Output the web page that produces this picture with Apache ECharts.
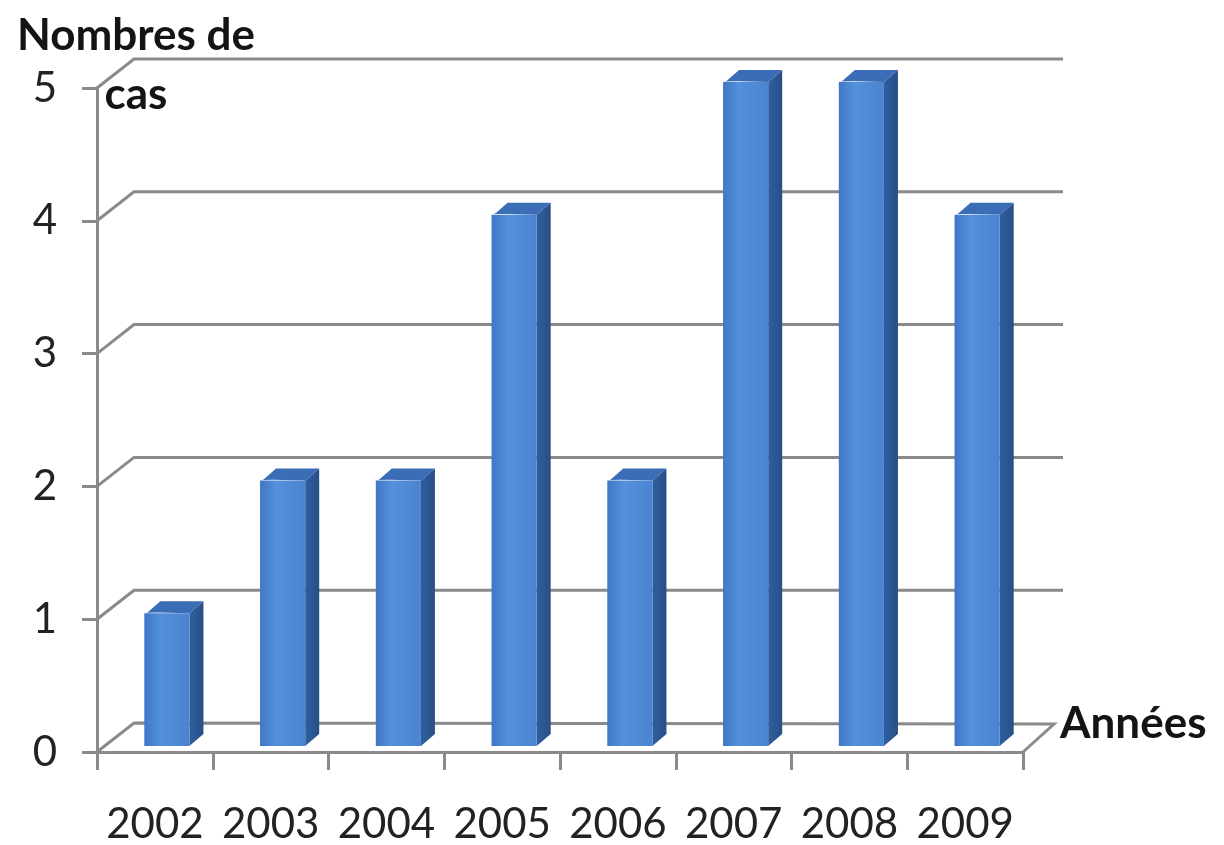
<!DOCTYPE html>
<html>
<head>
<meta charset="utf-8">
<title>Nombres de cas par année</title>
<script src="https://cdn.jsdelivr.net/npm/echarts@6/dist/echarts.min.js"></script>
<style>
  html, body { margin: 0; padding: 0; background: #ffffff; }
  #chart { width: 1224px; height: 845px; }
</style>
</head>
<body>
<div id="chart"></div>
<script>
// Data
const years = ['2002', '2003', '2004', '2005', '2006', '2007', '2008', '2009'];
const cases = [1, 2, 2, 4, 2, 5, 5, 4];
const gridLevels = [0, 1, 2, 3, 4, 5];

// Pseudo-3D geometry (pixel offsets for depth)
const DEPTH_LEFT = [37, -29];   // front axis -> back wall, left side
const DEPTH_RIGHT = [31, -28];  // floor corner, right side
const WALL_EXTRA = 40;          // how far back-wall lines run past the front plot edge
const BAR_FRONT = [12, -6];     // bar front face sits slightly inside the floor
const BAR_SIDE = [14, -12];     // visible bar depth
const BAR_RATIO = 0.39;

const GRID_COLOR = '#8a8a8a';
const FONT = 'Lato, "Open Sans", sans-serif';

// Back wall gridlines with their diagonal links to the front value axis
function renderWall(params, api) {
  const cs = params.coordSys;
  const v = api.value(1);
  const y = api.coord([0, v])[1];
  const x0 = cs.x;
  const x1 = cs.x + cs.width;
  const pts = [[x0, y], [x0 + DEPTH_LEFT[0], y + DEPTH_LEFT[1]]];
  if (v === 0) {
    pts.push([x1 + DEPTH_RIGHT[0], y + DEPTH_RIGHT[1]]);
    pts.push([x1, y]);
  } else {
    pts.push([x1 + WALL_EXTRA, y + DEPTH_LEFT[1]]);
  }
  return {
    type: 'polyline',
    shape: { points: pts },
    style: { stroke: GRID_COLOR, lineWidth: 3, fill: null }
  };
}

// Box-shaped bar: front face, right side and top
function renderBar(params, api) {
  const idx = api.value(0);
  const val = api.value(1);
  const top = api.coord([idx, val]);
  const base = api.coord([idx, 0]);
  const band = api.size([1, 0])[0];
  const w = band * BAR_RATIO;
  const xl = top[0] - w / 2 + BAR_FRONT[0];
  const xr = xl + w;
  const yt = top[1] + BAR_FRONT[1];
  const yb = base[1] + BAR_FRONT[1];
  const dx = BAR_SIDE[0], dy = BAR_SIDE[1];
  return {
    type: 'group',
    children: [
      {
        type: 'polygon',
        shape: { points: [[xr, yt], [xr + dx, yt + dy], [xr + dx, yb + dy], [xr, yb]] },
        style: {
          fill: new echarts.graphic.LinearGradient(0, 0, 1, 0, [
            { offset: 0, color: '#2f5f9f' },
            { offset: 1, color: '#284f86' }
          ])
        }
      },
      {
        type: 'polygon',
        shape: { points: [[xl, yt + 2], [xl + 3, yt - 1], [xr, yt], [xr + dx, yt + dy], [xl + dx + 2, yt + dy]] },
        style: { fill: '#3b6db6' }
      },
      {
        type: 'rect',
        shape: { x: xl, y: yt, width: w, height: yb - yt },
        style: {
          fill: new echarts.graphic.LinearGradient(0, 0, 1, 0, [
            { offset: 0, color: '#3f77c4' },
            { offset: 0.35, color: '#5590dc' },
            { offset: 1, color: '#4a84d1' }
          ])
        }
      }
    ]
  };
}

const chart = echarts.init(document.getElementById('chart'), null, { renderer: 'canvas' });

chart.setOption({
  animation: false,
  backgroundColor: '#ffffff',
  grid: { left: 97, right: 201, top: 88, bottom: 93, containLabel: false, outerBoundsMode: 'none' },
  xAxis: {
    type: 'category',
    data: years,
    boundaryGap: true,
    name: 'Années',
    nameLocation: 'end',
    nameGap: 37,
    nameMoveOverlap: false,
    nameTextStyle: {
      fontFamily: FONT, fontSize: 44, fontWeight: 'bold', color: '#141414',
      lineHeight: 44, align: 'left', verticalAlign: 'bottom', padding: [0, 0, 6, 0]
    },
    axisLine: { show: true, lineStyle: { color: GRID_COLOR, width: 3 } },
    axisTick: { show: true, interval: 0, length: 18, lineStyle: { color: GRID_COLOR, width: 3 } },
    axisLabel: { interval: 0, fontFamily: FONT, fontSize: 42, color: '#222222', margin: 51, hideOverlap: false },
    splitLine: { show: false }
  },
  yAxis: {
    type: 'value',
    min: 0,
    max: 5,
    interval: 1,
    name: 'Nombres de\ncas',
    nameLocation: 'end',
    nameGap: -36,
    nameMoveOverlap: false,
    nameTextStyle: {
      fontFamily: FONT, fontSize: 44, fontWeight: 'bold', color: '#141414',
      lineHeight: 59, align: 'center', verticalAlign: 'bottom', padding: [0, 0, 0, 78]
    },
    axisLine: { show: true, lineStyle: { color: GRID_COLOR, width: 3 } },
    axisTick: { show: true, length: 15, lineStyle: { color: GRID_COLOR, width: 3 } },
    axisLabel: { fontFamily: FONT, fontSize: 42, color: '#222222', margin: 40 },
    splitLine: { show: false }
  },
  series: [
    {
      type: 'custom',
      name: 'walls',
      renderItem: renderWall,
      data: gridLevels.map(v => [0, v]),
      z: 1,
      silent: true
    },
    {
      type: 'custom',
      name: 'cas',
      renderItem: renderBar,
      data: cases.map((v, i) => [i, v]),
      z: 2
    }
  ]
});
</script>
</body>
</html>
